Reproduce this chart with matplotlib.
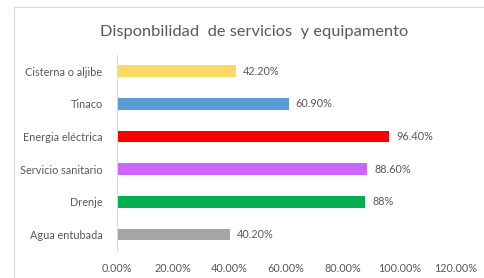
import matplotlib
matplotlib.use('Agg')
import matplotlib.pyplot as plt
from matplotlib.patches import Rectangle
from matplotlib.ticker import FuncFormatter

# datos (de abajo hacia arriba)
categorias = ['Agua entubada', 'Drenje', 'Servicio sanitario',
              'Energia eléctrica', 'Tinaco', 'Cisterna o aljibe']
valores = [0.402, 0.88, 0.886, 0.964, 0.609, 0.422]
etiquetas = ['40.20%', '88%', '88.60%', '96.40%', '60.90%', '42.20%']
colores = ['#A5A5A5', '#00B050', '#CC66FF', '#FF0000', '#5B9BD5', '#FFD966']
ticks_x = [0, 0.2, 0.4, 0.6, 0.8, 1.0, 1.2]

plt.rcParams['font.family'] = ['Lato', 'DejaVu Sans']

fig = plt.figure(figsize=(4.84, 2.78), dpi=100)
fig.patch.set_facecolor('white')

# marco del gráfico
fig.patches.append(Rectangle((14 / 484, -0.05), 1.0, 1 - 7 / 278 + 0.05,
                             transform=fig.transFigure, fill=False,
                             edgecolor='#D9D9D9', linewidth=0.8))

ax = fig.add_axes([116.5 / 484, 1 - 251 / 278, (456 - 116.5) / 484, (251 - 54.7) / 278])
y = range(len(categorias))
ax.barh(y, valores, height=0.35, color=colores)

for yi, v, t in zip(y, valores, etiquetas):
    ax.text(v + 0.025, yi, t, va='center', ha='left', fontsize=7.8, color='#595959')

ax.set_xlim(0, 1.2)
ax.set_ylim(-0.5, len(categorias) - 0.5)
ax.set_xticks(ticks_x)
ax.xaxis.set_major_formatter(FuncFormatter(lambda v, p: f'{v * 100:.2f}%'))
ax.set_yticks(list(y))
ax.set_yticklabels(categorias)
ax.tick_params(axis='both', length=0, labelsize=7.8, colors='#595959')
ax.tick_params(axis='x', pad=9)
ax.tick_params(axis='y', pad=10)

for s in ['top', 'right', 'bottom']:
    ax.spines[s].set_visible(False)
ax.spines['left'].set_color('#D9D9D9')
ax.spines['left'].set_linewidth(0.8)

fig.text(254 / 484, 1 - 32 / 278, 'Disponbilidad  de servicios  y equipamento',
         ha='center', va='center', fontsize=11.8, color='#595959')

fig.savefig('out.png', dpi=100)
